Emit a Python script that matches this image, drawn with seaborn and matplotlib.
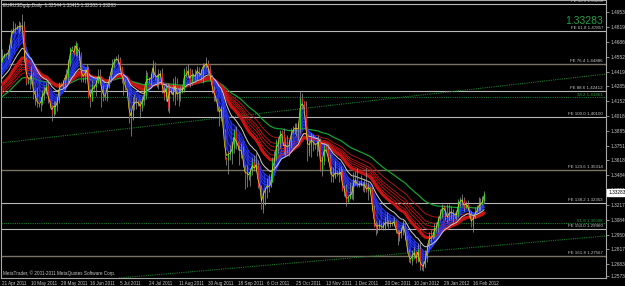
import numpy as np
import pandas as pd
import matplotlib
matplotlib.use("Agg")
import matplotlib.pyplot as plt
import seaborn as sns

# ---------------- data ----------------
# closes before the first visible bar (only used to seed the moving averages)
pre_closes = [1.3660, 1.3670, 1.3800, 1.3800, 1.3750,
              1.3760, 1.3800, 1.3770, 1.3850, 1.3990, 1.3980,
              1.3990, 1.3970, 1.3880, 1.3930, 1.3800, 1.3900,
              1.3920, 1.3990, 1.3990, 1.3960, 1.4000, 1.4180,
              1.4170, 1.4170, 1.4190, 1.4100, 1.4210, 1.4090,
              1.4070, 1.4080, 1.4120, 1.4100, 1.4170, 1.4230,
              1.4240, 1.4230, 1.4220, 1.4320, 1.4300, 1.4480,
              1.4470, 1.4460, 1.4470, 1.4440, 1.4480, 1.4430,
              1.4400, 1.4240, 1.4380, 1.4510]

first_open = 1.4510
last_open = 1.32544

closes = [1.4555, 1.4575,
          1.4580, 1.4585, 1.4645, 1.4795, 1.4810, 1.4805,
          1.4820, 1.4830, 1.4830, 1.4835, 1.4530, 1.4320,
          1.4340, 1.4340, 1.4400, 1.4190, 1.4190, 1.4120,
          1.4125, 1.4140, 1.4230, 1.4245, 1.4300, 1.4160,
          1.4120, 1.4040, 1.4120, 1.4100, 1.4160, 1.4315,
          1.4310, 1.4300, 1.4390, 1.4370, 1.4500, 1.4635,
          1.4640, 1.4580, 1.4680, 1.4605, 1.4590, 1.4340,
          1.4350, 1.4410, 1.4450, 1.4190, 1.4150, 1.4300,
          1.4280, 1.4320, 1.4390, 1.4375, 1.4230, 1.4190,
          1.4180, 1.4290, 1.4360, 1.4440, 1.4500, 1.4530,
          1.4540, 1.4530, 1.4460, 1.4340, 1.4330, 1.4260,
          1.4230, 1.4000, 1.3990, 1.4150, 1.4150, 1.4150,
          1.4140, 1.4090, 1.4160, 1.4200, 1.4390, 1.4360,
          1.4350, 1.4370, 1.4500, 1.4360, 1.4360, 1.4390,
          1.4410, 1.4250, 1.4190, 1.4280, 1.4090, 1.4280,
          1.4250, 1.4190, 1.4330, 1.4180, 1.4230, 1.4240,
          1.4250, 1.4430, 1.4400, 1.4440, 1.4330, 1.4400,
          1.4390, 1.4370, 1.4450, 1.4400, 1.4380, 1.4490,
          1.4480, 1.4500, 1.4440, 1.4370, 1.4250, 1.4200,
          1.4180, 1.4090, 1.4020, 1.4090, 1.3880, 1.3650,
          1.3620, 1.3680, 1.3690, 1.3730, 1.3880, 1.3790,
          1.3740, 1.3690, 1.3700, 1.3580, 1.3460, 1.3500,
          1.3480, 1.3530, 1.3600, 1.3540, 1.3590, 1.3390,
          1.3370, 1.3180, 1.3340, 1.3370, 1.3410, 1.3380,
          1.3420, 1.3620, 1.3640, 1.3790, 1.3780, 1.3880,
          1.3860, 1.3700, 1.3760, 1.3730, 1.3760, 1.3890,
          1.3900, 1.3920, 1.3910, 1.3900, 1.4180, 1.4150,
          1.4100, 1.3860, 1.3690, 1.3750, 1.3820, 1.3780,
          1.3750, 1.3770, 1.3790, 1.3530, 1.3610, 1.3750,
          1.3720, 1.3640, 1.3530, 1.3460, 1.3460, 1.3520,
          1.3500, 1.3490, 1.3520, 1.3350, 1.3340, 1.3240,
          1.3280, 1.3320, 1.3320, 1.3450, 1.3460, 1.3390,
          1.3400, 1.3410, 1.3390, 1.3400, 1.3340, 1.3380,
          1.3360, 1.3180, 1.3030, 1.3000, 1.3020, 1.3040,
          1.3020, 1.3010, 1.3070, 1.3060, 1.3050, 1.3050,
          1.3050, 1.3070, 1.2980, 1.2940, 1.2960,
          1.2980, 1.3060, 1.2940, 1.2790, 1.2720,
          1.2710, 1.2770, 1.2800, 1.2710, 1.2820, 1.2670,
          1.2660, 1.2660, 1.2740, 1.2850, 1.2950, 1.2930,
          1.2940, 1.3020, 1.3020, 1.3100, 1.3140, 1.3210,
          1.3190, 1.3150, 1.3080, 1.3160, 1.3160, 1.3140,
          1.3120, 1.3130, 1.3250, 1.3270, 1.3270, 1.3190,
          1.3230, 1.3200, 1.3130, 1.3030, 1.3100, 1.3150,
          1.3180, 1.3230, 1.3230, 1.3254, 1.33283]

highs = [1.4620, 1.4590,
         1.4590, 1.4600, 1.4660, 1.4800, 1.4880, 1.4860,
         1.4840, 1.4880, 1.4870, 1.4940, 1.4880, 1.4550,
         1.4360, 1.4390, 1.4470, 1.4420, 1.4250, 1.4280,
         1.4140, 1.4190, 1.4250, 1.4290, 1.4330, 1.4345,
         1.4160, 1.4110, 1.4150, 1.4150, 1.4190, 1.4330,
         1.4330, 1.4340, 1.4400, 1.4440, 1.4530, 1.4640,
         1.4650, 1.4660, 1.4695, 1.4680, 1.4640, 1.4600,
         1.4370, 1.4440, 1.4490, 1.4470, 1.4260, 1.4340,
         1.4300, 1.4340, 1.4440, 1.4440, 1.4380, 1.4300,
         1.4200, 1.4310, 1.4380, 1.4450, 1.4530, 1.4540,
         1.4560, 1.4580, 1.4550, 1.4470, 1.4380, 1.4350,
         1.4260, 1.4240, 1.4060, 1.4190, 1.4220, 1.4190,
         1.4160, 1.4160, 1.4200, 1.4250, 1.4430, 1.4420,
         1.4370, 1.4400, 1.4520, 1.4510, 1.4400, 1.4440,
         1.4430, 1.4450, 1.4290, 1.4320, 1.4320, 1.4310,
         1.4280, 1.4360, 1.4380, 1.4360, 1.4260, 1.4290,
         1.4270, 1.4450, 1.4470, 1.4490, 1.4450, 1.4440,
         1.4410, 1.4440, 1.4470, 1.4460, 1.4440, 1.4500,
         1.4500, 1.4550, 1.4520, 1.4480, 1.4390, 1.4290,
         1.4200, 1.4170, 1.4110, 1.4110, 1.4100, 1.3900,
         1.3650, 1.3700, 1.3760, 1.3790, 1.3900, 1.3930,
         1.3790, 1.3760, 1.3780, 1.3750, 1.3580, 1.3580,
         1.3510, 1.3550, 1.3640, 1.3670, 1.3690, 1.3620,
         1.3400, 1.3400, 1.3350, 1.3380, 1.3460, 1.3500,
         1.3450, 1.3650, 1.3700, 1.3810, 1.3830, 1.3890,
         1.3890, 1.3910, 1.3820, 1.3850, 1.3810, 1.3910,
         1.3930, 1.3960, 1.3960, 1.3960, 1.4245, 1.4230,
         1.4150, 1.4150, 1.3860, 1.3800, 1.3870, 1.3860,
         1.3780, 1.3800, 1.3850, 1.3820, 1.3640, 1.3780,
         1.3760, 1.3770, 1.3680, 1.3570, 1.3560, 1.3610,
         1.3530, 1.3550, 1.3570, 1.3540, 1.3400, 1.3410,
         1.3300, 1.3420, 1.3390, 1.3510, 1.3520, 1.3550,
         1.3430, 1.3490, 1.3420, 1.3450, 1.3550, 1.3420,
         1.3390, 1.3380, 1.3220, 1.3070, 1.3050, 1.3080,
         1.3050, 1.3070, 1.3110, 1.3150, 1.3080, 1.3080,
         1.3060, 1.3110, 1.3080, 1.2990, 1.2990,
         1.3010, 1.3080, 1.3070, 1.2940, 1.2820,
         1.2730, 1.2810, 1.2840, 1.2800, 1.2870, 1.2880,
         1.2680, 1.2700, 1.2810, 1.2870, 1.2970, 1.2990,
         1.2970, 1.3050, 1.3060, 1.3120, 1.3180, 1.3230,
         1.3220, 1.3200, 1.3230, 1.3230, 1.3210, 1.3180,
         1.3150, 1.3170, 1.3270, 1.3290, 1.3320, 1.3290,
         1.3250, 1.3260, 1.3210, 1.3160, 1.3120, 1.3200,
         1.3220, 1.3290, 1.3280, 1.3300, 1.33415]

lows = [1.4520, 1.4540,
        1.4560, 1.4530, 1.4560, 1.4630, 1.4770, 1.4770,
        1.4800, 1.4770, 1.4790, 1.4800, 1.4510, 1.4300,
        1.4310, 1.4260, 1.4310, 1.4170, 1.4120, 1.4100,
        1.4100, 1.4060, 1.4120, 1.4160, 1.4220, 1.4140,
        1.4090, 1.3970, 1.4020, 1.4040, 1.4060, 1.4140,
        1.4290, 1.4270, 1.4250, 1.4340, 1.4320, 1.4470,
        1.4620, 1.4570, 1.4560, 1.4560, 1.4520, 1.4330,
        1.4330, 1.4320, 1.4380, 1.4180, 1.4100, 1.4150,
        1.4250, 1.4200, 1.4320, 1.4330, 1.4100, 1.4150,
        1.4160, 1.4150, 1.4270, 1.4330, 1.4400, 1.4460,
        1.4520, 1.4490, 1.4440, 1.4320, 1.4210, 1.4250,
        1.4200, 1.3960, 1.3838, 1.3980, 1.4070, 1.4080,
        1.4110, 1.4000, 1.4060, 1.4120, 1.4170, 1.4320,
        1.4320, 1.4300, 1.4360, 1.4340, 1.4280, 1.4260,
        1.4380, 1.4230, 1.4160, 1.4150, 1.4060, 1.4050,
        1.4220, 1.4150, 1.4120, 1.4160, 1.4110, 1.4150,
        1.4230, 1.4240, 1.4370, 1.4370, 1.4280, 1.4300,
        1.4370, 1.4340, 1.4340, 1.4380, 1.4340, 1.4320,
        1.4460, 1.4450, 1.4400, 1.4350, 1.4230, 1.4150,
        1.4150, 1.4060, 1.3930, 1.3970, 1.3870, 1.3630,
        1.3580, 1.3495, 1.3620, 1.3590, 1.3690, 1.3720,
        1.3710, 1.3580, 1.3640, 1.3560, 1.3360, 1.3380,
        1.3440, 1.3390, 1.3490, 1.3520, 1.3520, 1.3370,
        1.3340, 1.3180, 1.3145, 1.3220, 1.3280, 1.3330,
        1.3390, 1.3420, 1.3520, 1.3620, 1.3690, 1.3730,
        1.3830, 1.3680, 1.3650, 1.3690, 1.3660, 1.3730,
        1.3870, 1.3860, 1.3840, 1.3800, 1.3870, 1.4080,
        1.4080, 1.3840, 1.3610, 1.3660, 1.3650, 1.3700,
        1.3720, 1.3660, 1.3700, 1.3520, 1.3480, 1.3580,
        1.3700, 1.3610, 1.3500, 1.3420, 1.3420, 1.3460,
        1.3480, 1.3420, 1.3460, 1.3340, 1.3300, 1.3210,
        1.3250, 1.3270, 1.3270, 1.3260, 1.3400, 1.3380,
        1.3380, 1.3390, 1.3340, 1.3330, 1.3330, 1.3260,
        1.3330, 1.3170, 1.3020, 1.2950, 1.2960, 1.2990,
        1.3000, 1.2990, 1.2990, 1.3030, 1.3010, 1.3020,
        1.3030, 1.3030, 1.2960, 1.2860, 1.2890,
        1.2920, 1.2950, 1.2900, 1.2780, 1.2700,
        1.2690, 1.2680, 1.2730, 1.2690, 1.2700, 1.2630,
        1.2630, 1.2624, 1.2660, 1.2700, 1.2830, 1.2880,
        1.2910, 1.2920, 1.2970, 1.2970, 1.3080, 1.3100,
        1.3170, 1.3080, 1.3060, 1.3080, 1.3090, 1.3040,
        1.3100, 1.3080, 1.3110, 1.3210, 1.3220, 1.3160,
        1.3200, 1.3180, 1.3110, 1.3020, 1.2975, 1.3100,
        1.3170, 1.3160, 1.3160, 1.3220, 1.32383]

date_labels = ["21 Apr 2011", "10 May 2011", "29 May 2011", "16 Jun 2011",
               "5 Jul 2011", "24 Jul 2011", "11 Aug 2011", "30 Aug 2011",
               "18 Sep 2011", "6 Oct 2011", "25 Oct 2011", "13 Nov 2011",
               "1 Dec 2011", "20 Dec 2011", "10 Jan 2012", "29 Jan 2012",
               "16 Feb 2012"]
bars_per_label = 16

price_ticks = [1.49530, 1.48195, 1.46860, 1.45525, 1.44190, 1.42855,
               1.41520, 1.40185, 1.38850, 1.37515, 1.36180, 1.34845,
               1.33510, 1.32175, 1.30840, 1.29505, 1.28170, 1.26835,
               1.25730]

fe_names = ["FE 50.0", "FE 61.8", "FE 76.4", "FE 88.6", "FE 100.0",
            "FE 123.6", "FE 138.2", "FE 150.0", "FE 161.8"]
fe_prices = [1.50258, 1.47857, 1.44886, 1.42412, 1.40100,
             1.35314, 1.32353, 1.29960, 1.27567]
fe_dark = [False, False, True, False, False, True, False, False, True]

fib_names = ["38.2", "61.8"]
fib_prices = [1.41861, 1.30508]

trend_a = [(0, 1.37776), (262, 1.42726)]
trend_b = [(70, 1.25676), (262, 1.28426)]

symbol_title = "EURUSDgdp,Daily  1.32544 1.33415 1.32383 1.33283"
footer = "MetaTrader, \u00a9 2001-2011 MetaQuotes Software Corp."
short_periods = [3, 5, 8, 10, 12, 15]
long_periods = [30, 35, 40, 45, 50, 60]
slow_period = 80

# ---------------- build ----------------
assert len(closes) == len(highs) == len(lows) == 263
n = len(closes)
idx = np.arange(n)
opens = [first_open] + closes[:-1]
opens[-1] = last_open
df = pd.DataFrame({"bar": idx, "open": opens, "high": highs,
                   "low": lows, "close": closes})

full = pd.Series(pre_closes + closes)
npre = len(pre_closes)


def ema(p):
    return full.ewm(span=p, adjust=True).mean().iloc[npre:].to_numpy()


sns.set_theme(style="dark", rc={"axes.facecolor": "black",
                                "figure.facecolor": "black"})
plt.rcParams["font.family"] = ["Liberation Sans", "DejaVu Sans"]

W, H = 625, 286
fig = plt.figure(figsize=(W / 100, H / 100), dpi=100)
ax = fig.add_axes([1 / W, 8 / H, 605 / W, 278 / H])
ax.set_facecolor("black")

px_per_bar = 1.84
ax.set_xlim((1 - 2) / px_per_bar, (606 - 2) / px_per_bar)
ytop = 1.47857 + 31 / 1109
ybot = 1.47857 - 247 / 1109
ax.set_ylim(ybot, ytop)

small = 3.2

# horizontal objects
for name, pr, dark in zip(fe_names, fe_prices, fe_dark):
    col = "#7a7264" if dark else "#b8b8b8"
    ax.axhline(pr, color=col, lw=1.0 if dark else 0.8, zorder=1)
    ax.text(0.995, pr + 0.0010, f"{name} {pr:.5f}", transform=ax.get_yaxis_transform(),
            ha="right", va="bottom", fontsize=small, color="#c8c8c8", zorder=6)
for name, pr in zip(fib_names, fib_prices):
    ax.axhline(pr, color="#1d7a2c", lw=0.8, ls=(0, (1, 1)), zorder=1)
    ax.text(0.995, pr + 0.0007, f"{name} {pr:.5f}", transform=ax.get_yaxis_transform(),
            ha="right", va="bottom", fontsize=small, color="#2a9a3a", zorder=6)
for tl in (trend_a, trend_b):
    ax.axline(tl[0], tl[1], color="#1d7a2c", lw=0.8, ls=(0, (1, 1)), zorder=1)

# ribbons
short = np.array([ema(p) for p in short_periods])
long_ = np.array([ema(p) for p in long_periods])
slow = ema(slow_period)
white = ema(20)
yellow = ema(2)

ax.fill_between(idx, short.min(axis=0), short.max(axis=0), facecolor="#0c1070",
                edgecolor="#2030d0", hatch="||||", lw=0, alpha=0.9, zorder=2)
for k, p in enumerate(long_periods):
    sns.lineplot(x=idx, y=long_[k], ax=ax, color="#c81414",
                 lw=2.2 if k == 0 else 0.6, zorder=3 if k else 3.5)
sns.lineplot(x=idx, y=slow, ax=ax, color="#18a030", lw=0.9, zorder=3)
for k, p in enumerate(short_periods):
    sns.lineplot(x=idx, y=short[k], ax=ax, color="#2b3cff", lw=0.6, zorder=3.6)
sns.lineplot(x=idx, y=white, ax=ax, color="#d0d0d0", lw=0.7, zorder=3.7)

# candles
up = df["close"] >= df["open"]
ax.vlines(df["bar"], df["low"], df["high"], color="#9a9a9a", lw=0.5, zorder=4)
ax.vlines(df["bar"][up], df["open"][up], df["close"][up], color="#22cc22", lw=0.8, zorder=4.2)
ax.vlines(df["bar"][~up], df["open"][~up], df["close"][~up], color="#e02828", lw=0.8, zorder=4.2)
sns.lineplot(x=idx, y=yellow, ax=ax, color="#e8dc20", lw=0.5, zorder=4.4)

# axes styling
for s in ax.spines.values():
    s.set_color("#a8a8a8")
    s.set_linewidth(0.8)
ax.grid(False)
ax.set_xlabel("")
ax.set_ylabel("")
ax.yaxis.tick_right()
ax.set_yticks(price_ticks)
ax.set_yticklabels([f"{v:.5f}" for v in price_ticks])
ax.tick_params(axis="y", colors="#c8c8c8", labelsize=3.4, length=2, width=0.5, pad=1)
ax.set_xticks(np.arange(len(date_labels)) * bars_per_label)
ax.set_xticklabels(date_labels, ha="left")
ax.tick_params(axis="x", colors="#c8c8c8", labelsize=3.3, length=2, width=0.5, pad=0.5)

# current price marker
ax.annotate(f"{closes[-1]:.5f}", xy=(1.0, closes[-1]), xycoords=("axes fraction", "data"),
            xytext=(1.5, 0), textcoords="offset points", ha="left", va="center",
            fontsize=3.4, color="black", zorder=10, annotation_clip=False,
            bbox=dict(boxstyle="square,pad=0.15", fc="white", ec="white"))
ax.text(0.995, 1.4877, f"{closes[-1]:.5f}", transform=ax.get_yaxis_transform(),
        ha="right", va="center", fontsize=7.5, color="#22a04a", zorder=6)

fig.text(3 / W, 1 - 5 / H, symbol_title, fontsize=3.3, color="#d8d8d8", va="center")
fig.text(3 / W, 1 - 273 / H, footer, fontsize=3.3, color="#c8c8c8", va="center")

fig.savefig("out.png", dpi=100, facecolor="black")
